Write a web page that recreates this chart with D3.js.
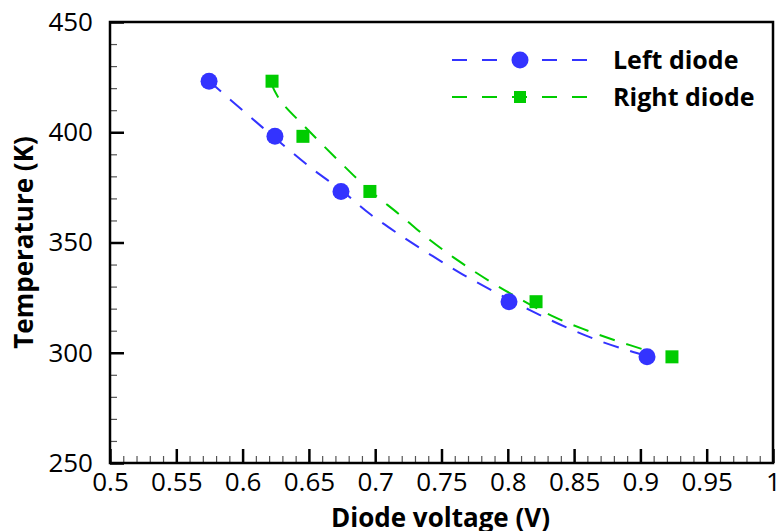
<!DOCTYPE html>
<html>
<head>
<meta charset="utf-8">
<script src="https://cdn.jsdelivr.net/npm/d3@7"></script>
<style>
  body { margin: 0; background: #fff; }
  text { font-family: "Open Sans", sans-serif; fill: #000; }
</style>
</head>
<body>
<div id="chart"></div>
<script>
  // measured points (markers)
  var tempK = [423.15, 398.15, 373.15, 323.15, 298.15];
  var leftV = [0.5747, 0.6244, 0.6742, 0.8009, 0.905];
  var rightV = [0.6222, 0.6455, 0.696, 0.8213, 0.9238];

  // dashed fit curves
  var leftFitV = [0.5747, 0.6041, 0.6244, 0.6508, 0.675, 0.6961, 0.7187, 0.7421, 0.7655, 0.7888, 0.8017, 0.8243, 0.8469, 0.8695, 0.8922, 0.905];
  var leftFitT = [423.2, 407.8, 397.4, 384.2, 373.4, 362.9, 353.4, 344.3, 335.7, 328.0, 323.9, 317.1, 310.8, 305.3, 300.8, 298.5];
  var rightFitV = [0.6214, 0.6282, 0.6486, 0.6719, 0.6946, 0.7187, 0.7413, 0.764, 0.7873, 0.8107, 0.8333, 0.8567, 0.8801, 0.9087];
  var rightFitT = [422.3, 414.6, 401.5, 387.4, 374.3, 362.5, 351.1, 341.2, 332.1, 323.9, 316.7, 310.8, 305.8, 300.3];

  var xTicks = [0.5, 0.55, 0.6, 0.65, 0.7, 0.75, 0.8, 0.85, 0.9, 0.95, 1];
  var yTicks = [250, 300, 350, 400, 450];
  var seriesNames = ["Left diode", "Right diode"];
  var seriesColors = ["#3333ff", "#00cc00"];

  var margin = {top: 22, right: 9, bottom: 68, left: 110},
      width = 782 - margin.left - margin.right,
      height = 531 - margin.top - margin.bottom;

  var svg = d3.select("#chart").append("svg")
      .attr("width", 782)
      .attr("height", 531)
    .append("g")
      .attr("transform", "translate(" + margin.left + "," + margin.top + ")");

  var x = d3.scaleLinear().domain([0.5, 1]).range([0, width]);
  var y = d3.scaleLinear().domain([250, 450]).range([height, 0]);

  // minor ticks
  var xMinor = d3.range(50, 101).map(function(d) { return d / 100; });
  var yMinor = d3.range(25, 46).map(function(d) { return d * 10; });

  svg.append("g")
      .attr("transform", "translate(0," + height + ")")
      .call(d3.axisBottom(x).tickValues(xMinor).tickSize(-7).tickFormat(""))
      .call(function(g) { g.select(".domain").remove(); g.selectAll("line").attr("stroke", "#555").attr("stroke-width", 1.2); });
  svg.append("g")
      .call(d3.axisLeft(y).tickValues(yMinor).tickSize(-7).tickFormat(""))
      .call(function(g) { g.select(".domain").remove(); g.selectAll("line").attr("stroke", "#555").attr("stroke-width", 1.2); });

  // major ticks + labels
  svg.append("g")
      .attr("transform", "translate(0," + height + ")")
      .call(d3.axisBottom(x).tickValues(xTicks).tickSize(-14).tickFormat(function(d) { return String(d); }))
      .call(function(g) {
        g.select(".domain").remove();
        g.selectAll("line").attr("stroke", "#000").attr("stroke-width", 2.5);
        g.selectAll("text").style("font-size", "26px").attr("dy", "0.71em").attr("y", 10);
      });
  svg.append("g")
      .call(d3.axisLeft(y).tickValues(yTicks).tickSize(-14))
      .call(function(g) {
        g.select(".domain").remove();
        g.selectAll("line").attr("stroke", "#000").attr("stroke-width", 2.5);
        g.selectAll("text").style("font-size", "26px").attr("x", -17);
      });

  // frame
  svg.append("rect")
      .attr("width", width).attr("height", height)
      .attr("fill", "none").attr("stroke", "#000").attr("stroke-width", 2.5);

  var line = d3.line()
      .x(function(d) { return x(d[0]); })
      .y(function(d) { return y(d[1]); })
      .curve(d3.curveCatmullRom);

  var fits = [d3.zip(leftFitV, leftFitT), d3.zip(rightFitV, rightFitT)];
  fits.forEach(function(f, i) {
    svg.append("path")
        .datum(f)
        .attr("d", line)
        .attr("fill", "none")
        .attr("stroke", seriesColors[i])
        .attr("stroke-width", 2)
        .attr("stroke-dasharray", "16,12");
  });

  svg.append("g").selectAll("circle")
      .data(d3.zip(leftV, tempK))
      .enter().append("circle")
        .attr("cx", function(d) { return x(d[0]); })
        .attr("cy", function(d) { return y(d[1]); })
        .attr("r", 8.5)
        .attr("fill", seriesColors[0]);

  svg.append("g").selectAll("rect")
      .data(d3.zip(rightV, tempK))
      .enter().append("rect")
        .attr("x", function(d) { return x(d[0]) - 6.5; })
        .attr("y", function(d) { return y(d[1]) - 6.5; })
        .attr("width", 13).attr("height", 13)
        .attr("fill", seriesColors[1]);

  // legend
  var legend = svg.append("g").attr("transform", "translate(342,38)");
  seriesNames.forEach(function(name, i) {
    var g = legend.append("g").attr("transform", "translate(0," + (i * 37) + ")");
    g.append("line")
        .attr("x1", 0).attr("x2", 136).attr("y1", 0).attr("y2", 0)
        .attr("stroke", seriesColors[i]).attr("stroke-width", 2)
        .attr("stroke-dasharray", "15,15");
    if (i === 0) {
      g.append("circle").attr("cx", 68).attr("cy", 0).attr("r", 8.5).attr("fill", seriesColors[i]);
    } else {
      g.append("rect").attr("x", 62).attr("y", -6).attr("width", 12).attr("height", 12).attr("fill", seriesColors[i]);
    }
    g.append("text")
        .attr("x", 161).attr("y", 0).attr("dy", "0.36em")
        .style("font-size", "25px").style("font-weight", "bold")
        .text(name);
  });

  // axis titles
  svg.append("text")
      .attr("x", width / 2 - 1).attr("y", height + 64)
      .attr("text-anchor", "middle")
      .style("font-size", "26px").style("font-weight", "bold")
      .text("Diode voltage (V)");
  svg.append("text")
      .attr("transform", "translate(" + (-77) + "," + (height / 2) + ") rotate(-90)")
      .attr("text-anchor", "middle")
      .style("font-size", "26px").style("font-weight", "bold")
      .text("Temperature (K)");
</script>
</body>
</html>
